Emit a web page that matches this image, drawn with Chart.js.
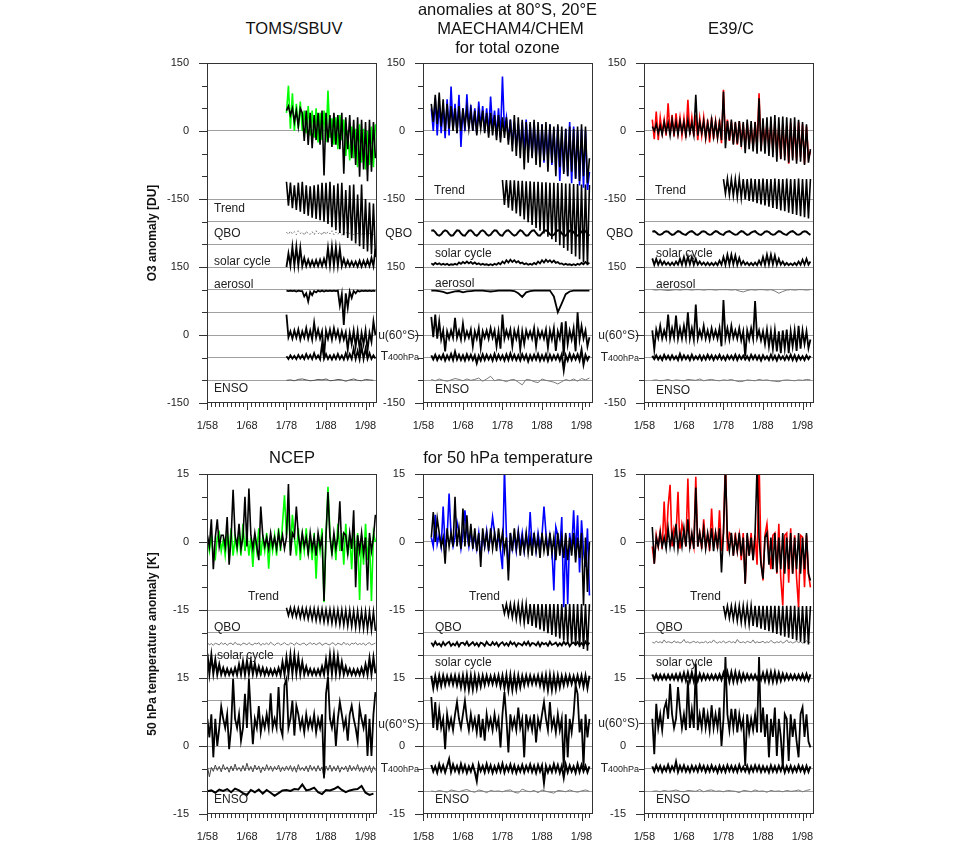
<!DOCTYPE html>
<html>
<head>
<meta charset="utf-8">
<script src="https://cdn.jsdelivr.net/npm/chart.js@4.4.1/dist/chart.umd.min.js"></script>
<style>
  body { margin: 0; background: #fff; width: 960px; height: 843px; position: relative; overflow: hidden;
         font-family: "Liberation Sans", Arial, sans-serif; color: #111; }
  canvas { position: absolute; }
  .txt { position: absolute; white-space: nowrap; line-height: 1; }
  .title { font-size: 16.5px; transform: translate(-50%, -50%); }
  .lab { font-size: 12px; color: #222; transform: translateY(-50%); }
  .lab.r { transform: translate(-100%, -50%); }
  .lab small { font-size: 9px; }
  .ytitle { font-size: 12px; font-weight: bold; transform: translate(-50%, -50%) rotate(-90deg); }
</style>
</head>
<body>
<script>
// ---- axis ticks ----
const tickYears = [1958, 1968, 1978, 1988, 1998];
const tickLabels = ['1/58', '1/68', '1/78', '1/88', '1/98'];

// ---- total ozone, TOMS/SBUV (half-yearly from 1978.0) [DU] ----
const tomsObs = [40,100,5,83,0,60,5,65,0,45,-5,55,-10,45,-15,50,-25,40,-20,45,-25,89,-15,28,-30,30,-40,35,-20,25,-55,0,-65,10,-60,5,-80,15,-70,5,-85,0,-75,10,-80,15];
const tomsFit = [45,55,35,50,20,45,10,50,40,-22,45,-31,40,-38,35,-20,40,-30,45,-98,40,-25,35,-35,40,-30,35,-40,40,-94,30,-40,35,-60,25,-75,30,-101,25,-85,20,-111,25,-90,20,-60];
const tomsTrend = [38,-15,36,-20,30,-24,36,-28,38,-33,30,-37,28,-41,30,-44,32,-47,36,-50,36,-55,38,-62,30,-69,34,-75,36,-80,20,-86,30,-92,32,-98,10,-104,32,-110,0,-116,-8,-122,-10,-128];
const tomsQbo = [2,-3,4,-2,3,-4,5,-1,2,-5,4,-2,-3,3,-4,5,-2,2,-5,4,-3,3,-2,5,-4,2,-3,4,-5,3,-2,4,-3,2,-4,5,-2,3,-4,2,-3,4,-2,3,-4,2];
const tomsSolar = [0,30,3,45,3,45,3,42,2,20,2,16,2,14,2,15,2,16,2,18,3,42,3,45,3,44,3,40,2,18,2,14,2,12,2,12,1,14,1,14,2,15,2,20,2,40];
const tomsAerosol = [-2,-3,-2,-3,-2,-4,-2,-3,-3,-15,-8,-26,-5,-12,-3,-6,-2,-4,-2,-4,-2,-3,-2,-3,-2,-3,-2,-35,-10,-78,-8,-40,-4,-18,-3,-8,-2,-4,-2,-3,-2,-3,-2,-3,-2,-3];
const tomsU60 = [45,-5,8,-8,10,-6,12,-10,8,-6,15,-8,10,-10,27,-6,12,-8,8,-47,10,-8,12,-10,15,-6,10,-12,8,-10,6,-32,5,-20,10,-25,8,-30,5,-20,10,-35,5,-15,30,0];
const tomsT400 = [3,-3,5,-2,4,-3,6,-2,5,-3,8,-2,6,-3,10,-2,5,-4,30,-3,8,-3,5,-4,6,-3,8,-3,5,-4,10,-3,8,-3,20,-3,15,-4,25,-3,20,-3,10,-3,5,-2];
const tomsEnso = [0,1,-1,2,3,1,-1,0,2,1,3,-1,0,2,1,-2,1,3,0,-1,2,1,0];

// ---- total ozone, MAECHAM4/CHEM (half-yearly from 1960.0) [DU] ----
const mchModel = [50,0,72,-10,60,-5,55,-16,70,-10,98,5,60,-5,80,-35,50,0,81,5,
  58,0,50,-5,65,10,55,0,50,-5,76,5,45,-10,50,-15,120,0,30,-20,
  25,-30,20,-35,15,-40,20,-45,25,-50,15,-55,20,-60,10,-65,15,-70,10,-65,
  15,-75,5,-80,10,-110,0,-90,5,-100,20,-115,10,-105,0,-120,5,-125,0,-130,-90];
const mchFit = [60,20,80,15,85,10,70,0,60,5,55,0,50,-5,55,0,50,10,50,5,
  45,0,45,-10,40,5,45,-5,40,-15,40,-10,35,-20,35,-25,30,-15,30,-30,
  25,-45,35,-55,30,-60,25,-85,20,-70,20,-60,25,-75,20,-80,15,-65,20,-90,
  15,-70,10,-100,15,-80,10,-95,5,-100,10,-90,5,-105,10,-110,15,-100,10,-115,-60];
const mchTrend = [42,-13,42,-19,41,-26,41,-32,40,-38,40,-45,39,-51,39,-57,38,-64,38,-70,37,-76,37,-83,36,-89,36,-95,35,-102,35,-108,34,-114,34,-121,33,-127,33,-133,32,-140,32,-146,31];
const mchQbo = [5,6,2,-4,-6,-3,3,6,4,-2,-6,-5,1,6,5,-1,-5,-6,0,5,6,2,-4,-6,-2,4,6,3,-3,-6,
  -4,2,6,5,-1,-5,-6,1,5,6,2,-3,-6,-4,2,6,4,-2,-6,-5,1,5,6,0,-5,-6,-1,4,6,3,
  -3,-6,-4,2,6,5,-1,-5,-6,0,5,6,2,-4,-6,-3,3,6,4,-2,-6];
const mchSolar = [8,5,9,6,8,5,7,5,7,4,6,5,7,5,10,7,11,8,12,8,11,7,10,6,8,5,7,5,6,4,
  6,4,7,5,9,6,12,8,15,10,16,11,15,10,13,8,10,6,8,5,7,5,9,6,12,8,15,10,16,11,
  15,10,14,9,11,7,8,5,7,5,6,4,6,4,7,5,9,6,11,7,9];
const mchAerosol = [-2,-2,-3,-5,-8,-6,-4,-3,-6,-4,-3,-2,-2,-2,-3,-4,-3,-2,-2,-2,-2,-3,-8,-16,-6,-3,-2,-2,-2,-2,-2,-15,-50,-30,-10,-4,-2,-2,-2,-2,-2];
const mchU60 = [40,-5,45,-8,30,-10,10,-36,8,-8,10,-6,38,-6,10,-10,25,-8,8,-6,
  12,-25,8,-8,15,-28,8,-6,10,-8,15,-6,10,-25,8,-30,45,-8,10,-6,
  12,-25,10,-8,12,-32,8,-20,10,-6,8,-8,15,-25,10,-6,8,-8,12,-28,
  10,-10,15,-35,8,-8,28,-47,30,-20,10,-10,15,-36,50,-10,20,-8,10,-25,-5];
const mchT400 = [5,-4,6,-5,4,-3,7,-6,5,-4,8,-5,13,-4,6,-5,5,-6,7,-4,6,-5,5,-12,4,-6,7,-5,6,-4,
  5,-6,8,-5,6,-4,5,-6,7,-5,9,-4,6,-5,5,-6,7,-4,6,-8,5,-5,6,-4,8,-6,5,-5,7,-7,
  6,-5,5,-4,6,-6,7,-27,5,-6,8,-5,6,-4,7,-6,17,-15,6,-5,4];
const mchEnso = [2,-1,3,0,-2,1,4,2,-1,3,0,2,5,-2,3,9,-1,2,0,-3,1,2,-4,-10,2,1,-3,-5,3,0,-2,-4,-8,-3,2,-1,3,-2,4,1,5];

// ---- total ozone, E39/C (half-yearly from 1960.0) [DU] ----
const e39Model = [25,-18,43,-20,30,-5,25,-10,61,-8,35,-12,39,-5,30,-10,28,-15,69,-8,
  30,-12,35,-20,28,-10,30,-15,25,-25,30,-18,22,-15,25,-27,91,-20,25,-22,
  20,-28,18,-30,22,-25,15,-35,18,-30,10,-38,20,-35,83,-42,15,-30,18,-40,
  15,-45,20,-50,10,-61,15,-55,12,-72,18,-60,10,-65,20,-58,15,-72,10,-60,-45];
const e39Fit = [10,0,15,-5,12,-8,20,-2,18,-10,25,-5,20,-8,22,-3,20,-10,24,-5,
  18,-8,80,-10,20,-5,22,-15,18,-10,25,-12,20,-15,18,-20,87,-38,22,-20,
  25,-30,20,-28,22,-35,20,-49,25,-40,22,-45,20,-50,72,-45,28,-50,30,-55,
  32,-58,35,-68,30,-62,32,-65,30,-70,28,-65,30,-72,25,-68,20,-75,15,-70,-40];
const e39Trend = [44,12,45,9,44,7,44,4,45,2,44,-1,44,-4,45,-6,44,-9,44,-12,45,-14,44,-17,44,-20,45,-22,44,-25,44,-27,45,-30,44,-33,44,-35,45,-38,44,-40,44,-43,44];
const e39Qbo = [3,4,1,-3,-4,-2,2,4,3,-1,-4,-3,1,4,3,-1,-3,-4,0,3,4,1,-3,-4,-1,3,4,2,-2,-4,
  -3,1,4,3,-1,-3,-4,1,3,4,1,-2,-4,-3,1,4,3,-1,-4,-3,1,3,4,0,-3,-4,-1,3,4,2,
  -2,-4,-3,1,4,3,-1,-3,-4,0,3,4,1,-3,-4,-2,2,4,3,-1,-4];
const e39Solar = [19,5,18,5,15,5,12,5,10,4,10,4,12,5,18,5,22,5,23,6,22,5,18,5,12,5,10,4,10,4,
  9,4,10,4,14,5,22,5,27,6,27,6,25,5,20,5,13,5,10,4,9,4,10,4,14,5,22,5,27,6,
  27,6,25,5,18,5,12,4,9,4,8,4,9,4,12,5,16,5,18,5,12];
const e39Aerosol = [0,-1,0,-1,-2,-1,0,-1,0,0,-1,0,0,-1,0,0,-1,0,0,0,-1,0,-3,-5,-2,0,-1,0,0,-1,0,-3,-8,-4,-1,0,-1,0,0,-1,0];
const e39U60 = [10,-32,12,-6,20,-8,10,-6,45,-8,15,-6,43,-8,15,-8,20,-6,50,-8,
  15,-10,67,-8,10,-6,20,-8,10,-10,15,-6,10,-8,15,-25,77,-8,15,-10,
  20,-6,10,-8,15,-12,8,-47,10,-10,15,-8,75,-6,10,-12,8,-20,12,-25,
  8,-30,10,-36,8,-40,10,-30,12,-40,8,-25,10,-35,20,-30,10,-20,8,-29,-10];
const e39T400 = [4,-3,5,-4,3,-5,6,-3,4,-4,5,-3,3,-5,8,-4,5,-3,4,-5,6,-4,3,-3,5,-5,4,-4,6,-3,
  5,-5,4,-3,6,-4,3,-5,5,-3,4,-4,6,-5,5,-3,4,-4,3,-5,6,-3,5,-4,4,-6,5,-3,3,-5,
  6,-4,4,-6,5,-3,3,-5,4,-4,6,-5,5,-6,4,-4,3,-5,5,-3,4];
const e39Enso = [0,1,-1,0,2,-1,1,0,-1,2,1,0,3,-1,1,2,0,-1,1,0,2,-1,-3,-2,1,0,-1,2,0,1,-1,-2,-3,0,1,0,-1,1,0,2,1];

// ---- 50 hPa temperature, NCEP (half-yearly from 1958.0) [K] ----
const ncepObs = [0.5,-2,1.5,-3,-3.7,1,2,-2,0.5,-3,1.5,-2,3,-3,1,-2,1.5,-3,4,-2,
  2,-3,1,-5.5,1.5,-2,3,-3,1,-2,2,-5.9,1,-2,1.5,-3,3,-2,4,10.3,
  1.5,8,-2,6,1,-3,3,-4,1.5,-2,3,-3,1,-4,2,-8.1,1.5,-2,3,-13.3,
  1,12.2,2,-3,1.5,-4,4,-2,2,-5,4,-3,1.5,-6,3,-4,2,-12.8,1.5,-5,
  4,-4,1,-13,2,0];
const ncepFit = [1.5,-1,5,-6,1,5,-1,1.5,1.5,-1,5.5,-5,1,11.5,1.5,-1,4,-1.5,1,10,
  -1,11.8,1.5,-1.5,2,-1,-4,7.8,1.5,-1,1,-1.5,2,-1,1,-1.5,2,-1,1.5,-1.5,
  1,12.8,-3,2,1,7.8,1.5,-1.5,2,-1,1,-2.5,2,-1.5,1,-3,2,-1,1,-13,
  1.5,11,1,-2.5,2,-1.5,1,9,-2,2,1.5,-2.5,2,-1.5,7,-10,1.5,-2,2,-2.5,
  1,-10.7,2,-2,1,6];
const ncepTrend = [0.5,-1.2,0.5,-1.4,0.5,-1.5,0.4,-1.7,0.4,-1.8,0.3,-2,0.3,-2.1,0.3,-2.3,0.2,-2.4,0.2,-2.6,0.1,-2.7,0.1,-2.9,0.1,-3,0,-3.2,0,-3.3,-0.1,-3.5,-0.1,-3.6,-0.2,-3.8,-0.2,-3.9,-0.3,-4.1,-0.3,-4.2,-0.4,-4.4,-0.4,-4.6];
const ncepQbo = [0.3,-0.2,0.1,-0.3,0.2,0,-0.2,0.3,-0.1,0.2,-0.3,0.1,0.2,-0.2,0.4,-0.1,0,-0.3,0.2,0.1,
  -0.2,0.3,-0.1,-0.2,0.2,0,0.3,-0.3,0.1,-0.1,0.2,-0.2,0.4,0,-0.3,0.1,0.2,-0.2,0,0.3,
  -0.1,-0.2,0.2,0.1,-0.3,0.3,0,-0.2,0.1,0.2,-0.3,0,0.3,-0.1,0.2,-0.2,0.1,0.3,-0.3,0,
  0.2,-0.1,-0.2,0.3,0.1,-0.3,0.2,0,-0.2,0.4,-0.1,0.1,-0.3,0.2,0,0.3,-0.2,0.1,-0.1,0.2,
  -0.3,0.1,0.3,-0.2,0,0.2];
const ncepSolar = [5.4,1,5,1,4,0.8,3,0.8,2.2,0.7,2,0.7,1.9,0.7,2.2,0.7,3,0.8,3.6,0.8,3.7,0.9,3.7,0.9,3.2,0.8,
  2.5,0.8,2.2,0.7,2,0.7,1.9,0.7,1.9,0.7,2.2,0.7,3.5,0.8,4.5,0.9,5,1,5,1,4.5,0.9,3.5,0.8,2.5,0.8,
  2,0.7,1.9,0.7,1.9,0.7,2.5,0.8,4,0.9,5,1,5,1,4.6,0.9,3.5,0.8,2.5,0.8,2,0.7,1.9,0.7,1.9,0.7,
  2.2,0.7,3,0.8,4.3,0.9,4.5,1];
const ncepU60 = [1,-3.1,2,-7.5,1,-5,-1,3.7,1,-1,2,-5.7,-1,9.8,1,-1,2,-3.8,-1,6.5,-1,9.8,2,-4.6,1,-1,3.8,-2,1,-1,
  2,-1,6.6,-1,1,-1,8,-1,-2.7,8.4,9.8,-1,1,5,-2.7,3.9,2,-1,1,-2,2,-1,1,-1,2,-2,1,-1,2,-12,
  6.5,10.2,1,-1,2,-5,1,4.7,2,-1,1,-3.8,2,3.9,1,-1,-3.8,3.5,1,-1,2,-7.2,1,-7.2,2,6.9];
const ncepT400 = [0.5,-1.8,0.3,-0.6,0.8,-0.4,0.5,-0.7,0.9,-0.3,0.4,-0.8,0.6,-0.5,1,-0.4,0.3,-0.6,0.7,-0.5,
  1.2,-0.4,0.5,-0.7,0.8,-0.3,0.6,-0.9,0.4,-0.5,0.9,-0.4,0.6,-0.6,0.5,-0.3,0.8,-0.7,0.4,-0.5,
  0.6,-0.4,0.7,-0.6,0.5,-0.8,0.9,-0.4,0.3,-0.5,0.6,-0.7,0.8,-0.4,0.5,-0.6,0.7,-0.5,0.4,-2.2,
  0.6,-0.4,0.8,-0.6,0.5,-0.5,0.7,-0.8,0.4,-0.3,0.6,-0.7,0.8,-0.5,0.5,-0.4,0.9,-0.6,0.4,-0.8,
  0.6,-0.5,0.7,-0.9,0.5,-0.4];
const ncepEnso = [0,0.2,-0.3,0.4,0.1,0.5,-0.2,0.6,0.2,-0.4,-0.8,0.3,-0.2,0.4,-0.5,0.3,-0.3,-1,-0.4,0.2,
  0.3,0.1,0.5,0.4,1.5,0.2,0.4,0.8,-0.2,-0.6,0.3,0.2,0.5,1,0.3,-0.2,0.2,0.4,0.5,1.2,-0.3,-0.8,-0.5];

// ---- 50 hPa temperature, MAECHAM4/CHEM (half-yearly from 1960.0) [K] ----
const mchTModel = [1,-1,6,-0.5,1.5,-1,7.8,-1,1,10.7,1.5,-1,1,4.4,2,-1.5,1.5,7,2,-1,
  2.5,-1,1.5,-1.5,2,-3.3,1.5,-1,2.5,-1.5,1.5,5.5,2,-1,1.5,-2,-6,16.3,1.5,-6.3,
  2,-1.5,1.5,-2,2.5,-1,2,-2,1.5,-1.5,6.6,-1,1.5,-2,2,-1,1.5,7.8,2,-2,
  1.5,-1.5,-10.7,3.3,1.5,-2,5.5,-14.4,1.5,-13.7,2,-2,7,-3,5.9,-6.7,4.8,-2,-5.5,3,-11.8];
const mchTFit = [1,6.6,0,5.2,2,-1,1,-4.8,3,-1,2,-1,10,-1,3,-1.5,7.4,-1,5.9,-1,
  4,-1.5,3,-2,2,-5.5,3,-1,2,-2,3,-1.5,2,-2,3,-1,2,-2,1,-8.5,
  2,-2,3,-1.5,2,-3,1,-2,2,-2.5,1,-3,2,-2,1,-3.5,2,-2,1,-3,
  2,-2.5,1,-4,2,-3,1,-3.5,2,-4,1,-3,2,-4.5,1,-3.5,2,-14,1,-11,0];
const mchTTrend = [1.3,-0.8,1.3,-1.2,1.3,-1.6,1.3,-2,1.3,-2.4,1.3,-2.8,1.3,-3.1,1.3,-3.5,1.3,-3.9,1.3,-4.3,1.3,-4.7,1.3,-5.1,1.3,-5.5,1.3,-5.9,1.3,-6.3,1.3,-6.7,1.3,-7,1.3,-7.4,1.3,-7.8,1.3,-8.2,1.3,-8.6,1.3,-9,1.3];
const mchTQbo = [0.3,-0.4,0.5,-0.2,0.1,-0.5,0.4,-0.3,0.2,0.5,-0.4,0.1,-0.3,0.4,-0.5,0.2,0.3,-0.2,0.5,-0.4,
  0,0.4,-0.3,0.2,-0.5,0.3,0.1,-0.4,0.5,-0.1,-0.3,0.4,-0.2,0.3,-0.5,0.1,0.4,-0.3,0.2,-0.4,
  0.5,-0.1,0.3,-0.5,0.2,0,-0.3,0.4,-0.2,0.5,-0.4,0.2,0.1,-0.3,0.4,-0.5,0.3,-0.1,0.2,-0.4,
  0.5,-0.2,0,0.3,-0.4,0.2,-0.3,0.5,-0.1,0.4,-0.5,0.1,0.3,-0.2,0.4,-0.3,0.2,-0.4,0.5,-0.2,0.3];
const mchTSolar = [0.5,-2.2,0.4,-2,0.5,-1.7,0.5,-1.5,0.4,-1.3,0.5,-1.4,0.5,-1.6,0.4,-2,0.5,-2.3,0.6,-2.5,
  0.5,-2.5,0.5,-2.2,0.4,-1.8,0.5,-1.5,0.5,-1.3,0.4,-1.3,0.5,-1.4,0.5,-1.8,0.5,-2.2,0.6,-2.6,
  0.6,-2.6,0.5,-2.4,0.5,-2,0.4,-1.6,0.5,-1.4,0.5,-1.3,0.4,-1.3,0.5,-1.6,0.5,-2.1,0.6,-2.6,
  0.6,-2.6,0.5,-2.4,0.5,-2,0.4,-1.6,0.5,-1.4,0.5,-1.3,0.4,-1.3,0.5,-1.5,0.5,-1.9,0.5,-2.2,0.5];
const mchTU60 = [5.8,-1,4.7,-1.5,3,-1,1,-5.7,2,-1,1,-1.5,2,4.7,1,-1,2,5,1,-1.5,
  2,-1,1,-2,2,-3.1,1,-3.8,2,-1,1,-1.5,2,-1,1,-5.3,2,6.9,1,-6.4,
  2,-1,1,-1.5,3.5,-1,1,-7.5,2,-1,1,-1.5,2,-4.2,1,-1,2,4.7,1,-1.5,
  4.7,-1,1,-2,2,-1.5,1,-9.8,2,-7.5,1,-2,2,8.4,6.5,-2,1,-9.8,2,-3.1,1];
const mchTT400 = [0.8,-0.6,0.5,-0.9,1,-0.5,0.7,-0.8,0.6,2.1,-0.7,0.9,-0.5,0.6,-0.8,1,-0.6,0.7,-0.9,0.5,
  -0.6,0.8,-0.7,-2.7,0.9,-0.5,0.6,-0.8,1,-0.6,0.7,-0.9,0.5,-0.7,0.8,-0.6,1.1,-0.8,0.6,-0.5,
  0.9,-0.7,0.7,-0.9,0.5,-0.6,0.8,-0.8,0.6,-0.5,0.9,-0.7,0.6,-0.9,0.8,-0.6,0.7,-3.1,0.6,-0.8,
  0.5,-0.7,1,-0.6,0.8,-0.9,0.6,-2,0.9,-0.8,0.7,-0.6,0.5,-0.9,1,-0.7,0.8,-0.6,0.6,-0.8,0.5];
const mchTEnso = [0.1,-0.1,0.2,0,-0.2,0.3,0.1,-0.1,0.2,0.4,0,-0.2,0.3,0.1,-0.3,0.2,0,0.1,-0.1,0.2,
  0.3,-0.2,-0.4,0.5,0.1,-0.1,0.2,-0.3,0.3,0,-0.2,-0.4,0.2,0.1,-0.1,0.3,0,-0.2,0.1,0.3,0];

// ---- 50 hPa temperature, E39/C (half-yearly from 1960.0) [K] ----
const e39TModel = [-1,-4.8,1.5,-1,2.5,-1.5,8.9,-1,7.8,12.6,-1,3,1.5,11.1,-1.5,4,2,-1,14,-1.5,
  1.5,-1,14.4,-1,2,-1.5,5,-1,1.5,-2,7.4,-1,2,-1.5,7,-2,2,18.5,-2,2,
  1.5,-3,2,-2,1.5,-4,2,-9.2,1.5,-3,2,-4,1.5,-5,18.3,-4,-8.5,1.5,4,-2,
  -6,1.5,2,-7,4,-8,-14,1.5,2,-9,3,-7,1.5,-8,-14.4,1.5,1.1,-10,1.5,-7,-10];
const e39TFit = [3.3,-4.8,1,-1,2,-1,1,-1.5,3,-1,2,-1,4,-1.5,2,-1,3,-1,5,-1,
  2,-1.5,12,-1,2,-1,3,-1.5,2,-1,3,-2,2,-1,3,-6.7,2,16.3,1,-2,
  2,-3,1,-2,2,-3,1,-9.2,2,-3,1,-4,2,16.6,1,-5,-8.1,1,2,-5,
  1,-6,2,-6.7,1,-6,2,-7,1,-6,2,-7,1,-6,2,-7,1,-6,2,-7,-8.5];
const e39TTrend = [0.9,-1.5,0.9,-1.8,0.9,-2.1,0.9,-2.4,0.9,-2.7,0.9,-2.9,0.9,-3.2,0.9,-3.5,0.9,-3.8,0.9,-4.1,0.9,-4.4,0.9,-4.7,0.9,-5,0.9,-5.3,0.9,-5.6,0.9,-5.9,0.9,-6.1,0.9,-6.4,0.9,-6.7,0.9,-7,0.9,-7.3,0.9,-7.6,0.9];
const e39TQbo = [0.4,0.2,0.6,0.3,0.5,0.2,0.9,0.3,0.5,0.4,0.2,0.7,0.3,0.5,0.2,0.4,1,0.3,0.5,0.2,
  0.4,0.6,0.3,0.5,0.2,0.4,0.3,0.6,0.2,0.5,0.3,0.9,0.4,0.2,0.5,0.3,0.7,0.2,0.4,0.6,
  0.3,0.5,0.2,1,0.4,0.3,0.5,0.2,0.6,0.4,0.3,0.9,0.2,0.5,0.3,0.4,0.6,0.2,0.5,0.3,
  0.8,0.4,0.2,0.5,0.3,0.6,0.2,0.4,0.9,0.3,0.5,0.2,0.4,0.6,0.3,0.5,0.2,0.4,0.7,0.3,0.4];
const e39TSolar = [0.8,-0.3,0.8,-0.3,0.7,-0.3,0.7,-0.3,0.7,-0.3,0.7,-0.3,0.8,-0.4,0.9,-0.5,1.1,-0.6,1.2,-0.7,
  1.2,-0.7,1.1,-0.6,0.9,-0.4,0.8,-0.3,0.7,-0.3,0.7,-0.3,0.7,-0.3,0.8,-0.4,1.1,-0.6,1.3,-0.8,
  1.3,-0.8,1.3,-0.8,1.1,-0.6,0.9,-0.4,0.8,-0.3,0.7,-0.3,0.7,-0.3,0.8,-0.4,1.1,-0.6,1.3,-0.8,
  1.3,-0.8,1.3,-0.8,1.1,-0.6,0.9,-0.4,0.8,-0.3,0.7,-0.3,0.7,-0.3,0.7,-0.3,0.8,-0.4,0.9,-0.5,0.8];
const e39TU60 = [1,-6.8,4.3,-1,2,-1.5,3.2,4.7,1,8.7,2,-1,1,8,3,-1,2,-1.5,9.5,-1,
  3,-1,13.2,-1.5,2,-1,3.5,-1,2,-1.5,4,-1,2,-1,3.5,-5,1,14.6,2,-1.5,
  3.2,-1,3.2,-2,2,-1,1,-9.4,2,-2,1,-1.5,2,-2,14.6,-2,3.5,-3,2,-7.5,
  1,-3,3.5,-7.2,1,-3,-9.8,2,1,-8.3,2,-3,1,-4,-7.5,2,3.5,-3,2,-4,-5.3];
const e39TT400 = [0.5,-0.6,0.7,-0.4,0.6,-0.7,0.4,-0.5,0.8,-0.6,0.5,-0.4,1.5,-0.7,0.6,-0.5,0.7,-0.6,0.4,-0.7,
  0.6,-0.5,0.5,-0.6,0.8,-0.4,0.6,-0.7,0.5,-0.6,0.7,-0.5,0.4,-0.8,0.6,-0.6,0.5,-0.7,0.7,-0.5,
  0.6,-0.6,0.5,-0.7,0.8,-0.5,0.4,-0.6,0.6,-0.8,0.5,-0.6,0.7,-0.5,0.6,-0.7,0.5,-0.6,0.4,-0.8,
  0.7,-0.6,0.5,-0.7,0.6,-0.5,0.8,-0.8,0.5,-0.6,0.6,-0.7,0.4,-0.6,0.7,-0.5,0.5,-0.8,0.6,-0.7,0.5];
const e39TEnso = [0,0.1,-0.1,0.2,0,0.1,0.3,0,-0.1,0.2,0.1,0,0.4,-0.1,0.2,0.3,0,0.1,-0.1,0.2,
  0.1,0,-0.3,0.2,0.1,-0.1,0.3,0,0.1,-0.2,0.2,0,0.1,-0.1,0.2,0,0.1,0.3,-0.1,0.2,0.4];

// where each component sits on the stacked axis
const o3Off = { main: 450, trend: 300, qbo: 225, solar: 150, aerosol: 100, u60: 0, t400: -50, enso: -100 };
const tOff = { main: 45, trend: 30, qbo: 22.5, solar: 15, u60: 5, t400: -5, enso: -10 };

const BLACK = '#000', GREEN = '#00ff00', BLUE = '#0000ff', RED = '#ff0000', GRAY = '#7a7a7a';
const X_MIN = 1957.9, X_MAX = 2000.9;
const PAD_T = 10, PAD_R = 10, AXIS_W = 60, AXIS_H = 35, PLOT_W = 170, PLOT_H = 340;

Chart.defaults.font.family = '"Liberation Sans", Arial, sans-serif';

function line(vals, start, step, off, color, width, dash) {
  return {
    data: vals.map((v, i) => ({ x: start + i * step, y: v + off })),
    borderColor: color, borderWidth: width, borderDash: dash || [],
    pointRadius: 0, fill: false, tension: 0, parsing: false
  };
}

// frame box plus the small tick marks on both axes
const framePlugin = {
  id: 'frame',
  afterDatasetsDraw(chart, args, opts) {
    const { ctx, chartArea: a, scales: { x, y } } = chart;
    const U = opts.unit;
    ctx.save();
    ctx.strokeStyle = '#333';
    ctx.lineWidth = 1;
    ctx.strokeRect(a.left + 0.5, a.top + 0.5, a.right - a.left - 1, a.bottom - a.top - 1);
    ctx.beginPath();
    for (let k = 0; k <= 15; k++) {
      const py = Math.round(y.getPixelForValue(-U + k * U / 3)) + 0.5;
      const len = k % 3 === 0 ? 8 : 5;
      ctx.moveTo(a.left - len, py); ctx.lineTo(a.left, py);
    }
    for (let yr = 1958; yr <= 2000; yr++) {
      const px = Math.round(x.getPixelForValue(yr)) + 0.5;
      const len = (yr - 1958) % 10 === 0 ? 7 : 4;
      ctx.moveTo(px, a.bottom); ctx.lineTo(px, a.bottom + len);
    }
    ctx.stroke();
    ctx.restore();
  }
};

const panels = [
  { left: 207, top: 63, unit: 150, hideZero: false, sets: [
      [tomsFit, 1978, 0.5, o3Off.main, BLACK, 1.6],
      [tomsObs, 1978, 0.5, o3Off.main, GREEN, 1.6],
      [tomsTrend, 1978, 0.5, o3Off.trend, BLACK, 1.6],
      [tomsQbo, 1978, 0.5, o3Off.qbo, GRAY, 1, [2, 2]],
      [tomsSolar, 1978, 0.5, o3Off.solar, BLACK, 1.8],
      [tomsAerosol, 1978, 0.5, o3Off.aerosol, BLACK, 1.8],
      [tomsU60, 1978, 0.5, o3Off.u60, BLACK, 1.8],
      [tomsT400, 1978, 0.5, o3Off.t400, BLACK, 1.8],
      [tomsEnso, 1978, 1, o3Off.enso, '#555', 1]
    ] },
  { left: 423, top: 63, unit: 150, hideZero: true, sets: [
      [mchFit, 1960, 0.5, o3Off.main, BLACK, 1.6],
      [mchModel, 1960, 0.5, o3Off.main, BLUE, 1.6],
      [mchTrend, 1978, 0.5, o3Off.trend, BLACK, 1.6],
      [mchQbo, 1960, 0.5, o3Off.qbo, BLACK, 2],
      [mchSolar, 1960, 0.5, o3Off.solar, BLACK, 1.8],
      [mchAerosol, 1960, 1, o3Off.aerosol, BLACK, 1.8],
      [mchU60, 1960, 0.5, o3Off.u60, BLACK, 1.8],
      [mchT400, 1960, 0.5, o3Off.t400, BLACK, 2],
      [mchEnso, 1960, 1, o3Off.enso, GRAY, 1]
    ] },
  { left: 644, top: 63, unit: 150, hideZero: true, sets: [
      [e39Fit, 1960, 0.5, o3Off.main, BLACK, 1.6],
      [e39Model, 1960, 0.5, o3Off.main, RED, 1.6],
      [e39Trend, 1978, 0.5, o3Off.trend, BLACK, 1.6],
      [e39Qbo, 1960, 0.5, o3Off.qbo, BLACK, 2],
      [e39Solar, 1960, 0.5, o3Off.solar, BLACK, 1.8],
      [e39Aerosol, 1960, 1, o3Off.aerosol, GRAY, 1],
      [e39U60, 1960, 0.5, o3Off.u60, BLACK, 1.8],
      [e39T400, 1960, 0.5, o3Off.t400, BLACK, 2],
      [e39Enso, 1960, 1, o3Off.enso, GRAY, 1]
    ] },
  { left: 207, top: 474, unit: 15, hideZero: false, sets: [
      [ncepFit, 1958, 0.5, tOff.main, BLACK, 1.6],
      [ncepObs, 1958, 0.5, tOff.main, GREEN, 1.6],
      [ncepTrend, 1978, 0.5, tOff.trend, BLACK, 1.6],
      [ncepQbo, 1958, 0.5, tOff.qbo, GRAY, 1],
      [ncepSolar, 1958, 0.5, tOff.solar, BLACK, 2],
      [ncepU60, 1958, 0.5, tOff.u60, BLACK, 1.8],
      [ncepT400, 1958, 0.5, tOff.t400, '#444', 1],
      [ncepEnso, 1958, 1, tOff.enso, BLACK, 2]
    ] },
  { left: 423, top: 474, unit: 15, hideZero: false, sets: [
      [mchTFit, 1960, 0.5, tOff.main, BLACK, 1.6],
      [mchTModel, 1960, 0.5, tOff.main, BLUE, 1.6],
      [mchTTrend, 1978, 0.5, tOff.trend, BLACK, 1.6],
      [mchTQbo, 1960, 0.5, tOff.qbo, BLACK, 1.8],
      [mchTSolar, 1960, 0.5, tOff.solar, BLACK, 2],
      [mchTU60, 1960, 0.5, tOff.u60, BLACK, 1.8],
      [mchTT400, 1960, 0.5, tOff.t400, BLACK, 2],
      [mchTEnso, 1960, 1, tOff.enso, GRAY, 1]
    ] },
  { left: 644, top: 474, unit: 15, hideZero: false, sets: [
      [e39TFit, 1960, 0.5, tOff.main, BLACK, 1.6],
      [e39TModel, 1960, 0.5, tOff.main, RED, 1.6],
      [e39TTrend, 1978, 0.5, tOff.trend, BLACK, 1.6],
      [e39TQbo, 1960, 0.5, tOff.qbo, GRAY, 1],
      [e39TSolar, 1960, 0.5, tOff.solar, BLACK, 2],
      [e39TU60, 1960, 0.5, tOff.u60, BLACK, 1.8],
      [e39TT400, 1960, 0.5, tOff.t400, BLACK, 2],
      [e39TEnso, 1960, 1, tOff.enso, GRAY, 1]
    ] }
];

panels.forEach(p => {
  const cv = document.createElement('canvas');
  cv.width = AXIS_W + PLOT_W + PAD_R;
  cv.height = PAD_T + PLOT_H + AXIS_H;
  cv.style.left = (p.left - AXIS_W) + 'px';
  cv.style.top = (p.top - PAD_T) + 'px';
  document.body.appendChild(cv);

  const U = p.unit;
  const grayLines = [3, 2, 5 / 3, 4 / 3, 1, 2 / 3, 1 / 3, 0, -1 / 3, -2 / 3].map(f => f * U);

  new Chart(cv, {
    type: 'line',
    data: { datasets: p.sets.map(s => line(...s)) },
    options: {
      responsive: false,
      animation: false,
      layout: { padding: { top: PAD_T, right: PAD_R, left: 0, bottom: 0 } },
      plugins: { legend: { display: false }, tooltip: { enabled: false }, frame: { unit: U } },
      scales: {
        x: {
          type: 'linear', min: X_MIN, max: X_MAX,
          afterBuildTicks: s => { s.ticks = tickYears.map(v => ({ value: v })); },
          afterFit: s => { s.height = AXIS_H; s.paddingLeft = 0; s.paddingRight = 0; },
          border: { display: false },
          grid: { display: false, drawTicks: false },
          ticks: { padding: 16, color: '#222', font: { size: 11 }, maxRotation: 0, autoSkip: false,
                   callback: v => tickLabels[tickYears.indexOf(v)] }
        },
        y: {
          min: -U, max: 4 * U,
          afterBuildTicks: s => {
            s.ticks = [];
            for (let k = 0; k <= 15; k++) s.ticks.push({ value: -U + k * U / 3 });
          },
          afterFit: s => { s.width = AXIS_W; s.paddingTop = 0; s.paddingBottom = 0; },
          border: { display: false },
          grid: {
            drawTicks: false, lineWidth: 1,
            color: c => grayLines.some(g => Math.abs(g - c.tick.value) < 1e-6) ? '#a0a0a0' : 'rgba(0,0,0,0)'
          },
          ticks: {
            padding: 18, color: '#222', font: { size: 11 }, autoSkip: false,
            callback: v => {
              const k = Math.round((v + U) / (U / 3));
              if (k % 3 !== 0) return '';
              if (p.hideZero && Math.abs(v) < 1e-6) return '';
              const lab = v >= 2 * U - 1e-6 ? v - 3 * U : v;
              return String(Math.round(lab));
            }
          }
        }
      }
    },
    plugins: [framePlugin]
  });
});

// ---- text: titles, axis titles, component labels ----
function addText(html, x, y, cls) {
  const d = document.createElement('div');
  d.className = 'txt ' + cls;
  d.innerHTML = html;
  d.style.left = x + 'px';
  d.style.top = y + 'px';
  document.body.appendChild(d);
}

addText('TOMS/SBUV', 294, 27.5, 'title');
addText('anomalies at 80°S, 20°E', 507.5, 9, 'title');
addText('MAECHAM4/CHEM', 510.5, 27.5, 'title');
addText('for total ozone', 507.5, 46.5, 'title');
addText('E39/C', 731, 27.5, 'title');
addText('NCEP', 292, 456.5, 'title');
addText('for 50 hPa temperature', 508, 456.5, 'title');

addText('O3 anomaly [DU]', 152, 233, 'ytitle');
addText('50 hPa temperature anomaly [K]', 152, 644, 'ytitle');

const T400 = 'T<small>400hPa</small>';
[
  ['Trend', 214, 208], ['QBO', 214, 233], ['solar cycle', 214, 261], ['aerosol', 214, 284], ['ENSO', 214, 388],
  ['Trend', 434, 190], ['solar cycle', 435, 253], ['aerosol', 435, 283], ['ENSO', 435, 389],
  ['Trend', 655, 190], ['solar cycle', 656, 253], ['aerosol', 656, 284], ['ENSO', 656, 390],
  ['Trend', 248, 596], ['QBO', 214, 627], ['solar cycle', 217, 655], ['ENSO', 214, 799],
  ['Trend', 469, 596], ['QBO', 435, 627], ['solar cycle', 435, 662], ['ENSO', 435, 799],
  ['Trend', 690, 596], ['QBO', 656, 627], ['solar cycle', 656, 662], ['ENSO', 656, 799]
].forEach(l => addText(l[0], l[1], l[2], 'lab'));

[
  ['QBO', 412, 233], ['QBO', 633, 233],
  ['u(60°S)', 419, 335], [T400, 419, 356], ['u(60°S)', 639, 335], [T400, 639, 357],
  ['u(60°S)', 419, 724], [T400, 419, 768], ['u(60°S)', 639, 723], [T400, 639, 768]
].forEach(l => addText(l[0], l[1], l[2], 'lab r'));
</script>
</body>
</html>
